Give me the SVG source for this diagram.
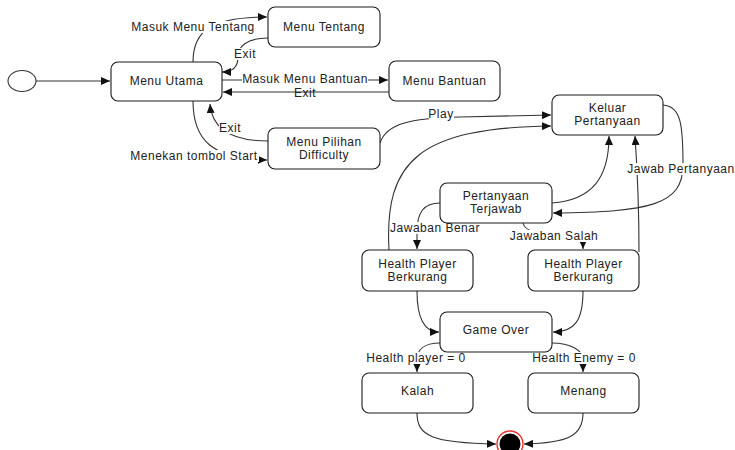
<svg xmlns="http://www.w3.org/2000/svg" width="735" height="450" viewBox="0 0 735 450">
  <style>
    .box { fill: #ffffff; stroke: #1a1a1a; stroke-width: 1.1; }
    .t { font-family: "Liberation Sans", Arial, sans-serif; font-size: 12px; letter-spacing: 0.5px; fill: #222; text-anchor: middle; }
    .bg { fill: #ffffff; stroke: none; }
    .edge { fill: none; stroke: #333; stroke-width: 1.1; marker-end: url(#arrow); }
  </style>
  <defs>
    <marker id="arrow" markerUnits="userSpaceOnUse" markerWidth="9" markerHeight="8" refX="9" refY="4" orient="auto">
      <path d="M0,0 L9,4 L0,8 z" fill="#111"/>
    </marker>
  </defs>
  <rect width="735" height="450" fill="#ffffff"/>

  <!-- connectors -->
  <g id="connectors">
    <path class="edge" d="M36,81 L110,81"/>
    <path class="edge" d="M193,62 C193,30 212,17 267,17"/>
    <path class="edge" d="M268,38 C246,38 238,47 238,57 C238,67 232,72 222,72"/>
    <path class="edge" d="M222,80 L388,80"/>
    <path class="edge" d="M389,92 L223,92"/>
    <path class="edge" d="M193,101 C193,140 212,159 267,160"/>
    <path class="edge" d="M268,141 C234,141 212,130 210,104"/>
    <path class="edge" d="M380,143 C386,124 410,118 460,117 L551,115"/>
    <path class="edge" d="M389,250 C384,160 420,128 551,126"/>
    <path class="edge" d="M552,203 C592,200 609,178 609,136"/>
    <path class="edge" d="M639,252 C639,200 637,165 635,136"/>
    <path class="edge" d="M663,105 C681,106 683,125 683,165 C683,205 650,212 553,213"/>
    <path class="edge" d="M440,203 C424,203 417,212 417,232 L417,249"/>
    <path class="edge" d="M523,223 C525,232 540,235 560,236 C576,237 583,240 583,249"/>
    <path class="edge" d="M417,291 C417,320 425,332 439,332"/>
    <path class="edge" d="M583,291 C583,320 575,332 553,332"/>
    <path class="edge" d="M440,343 C424,343 417,350 417,360 L417,372"/>
    <path class="edge" d="M552,343 C570,343 583,350 583,360 L583,372"/>
    <path class="edge" d="M417,413 C417,436 432,443 496,444"/>
    <path class="edge" d="M583,413 C583,436 568,443 524,444"/>

    <!-- label backgrounds: hide the line where a label sits on it -->
    <rect class="bg" x="130" y="21" width="126" height="12"/>
    <rect class="bg" x="234" y="48" width="22" height="12"/>
    <rect class="bg" x="242" y="73" width="126" height="12"/>
    <rect class="bg" x="219" y="122" width="22" height="12"/>
    <rect class="bg" x="130" y="150" width="129" height="12"/>
    <rect class="bg" x="429" y="108" width="25" height="12"/>
    <rect class="bg" x="628" y="163" width="106" height="12"/>
    <rect class="bg" x="390" y="222" width="91" height="12"/>
    <rect class="bg" x="510" y="230" width="88" height="12"/>
    <rect class="bg" x="367" y="352" width="99" height="12"/>
    <rect class="bg" x="532" y="352" width="104" height="12"/>

    <!-- connector labels -->
    <text class="t" x="193" y="31">Masuk Menu Tentang</text>
    <text class="t" x="245" y="58">Exit</text>
    <text class="t" x="305" y="82.5">Masuk Menu Bantuan</text>
    <text class="t" x="305" y="96.5">Exit</text>
    <text class="t" x="230" y="132">Exit</text>
    <text class="t" x="194" y="160">Menekan tombol Start</text>
    <text class="t" x="441" y="118">Play</text>
    <text class="t" x="681" y="173">Jawab Pertanyaan</text>
    <text class="t" x="435" y="232">Jawaban Benar</text>
    <text class="t" x="554" y="240">Jawaban Salah</text>
    <text class="t" x="416" y="362">Health player = 0</text>
    <text class="t" x="584" y="362">Health Enemy = 0</text>
  </g>

  <!-- start and end states -->
  <g id="start">
    <ellipse cx="22" cy="81" rx="14" ry="10.5" fill="#ffffff" stroke="#333" stroke-width="1.1"/>
  </g>
  <g id="end">
    <circle cx="510" cy="444" r="13" fill="#ffffff" stroke="#e33" stroke-width="1.4"/>
    <circle cx="510" cy="444" r="10.5" fill="#000000"/>
  </g>

  <!-- states -->
  <g id="menu-utama">
    <rect class="box" x="111" y="62" width="111" height="39" rx="7"/>
    <text class="t" x="166.5" y="85">Menu Utama</text>
  </g>
  <g id="menu-tentang">
    <rect class="box" x="268" y="7" width="112" height="40" rx="7"/>
    <text class="t" x="324" y="31">Menu Tentang</text>
  </g>
  <g id="menu-bantuan">
    <rect class="box" x="389" y="61" width="111" height="40" rx="7"/>
    <text class="t" x="444.5" y="85">Menu Bantuan</text>
  </g>
  <g id="menu-pilihan">
    <rect class="box" x="268" y="128" width="112" height="41" rx="7"/>
    <text class="t" x="324" y="145.5">Menu Pilihan</text>
    <text class="t" x="324" y="158.5">Difficulty</text>
  </g>
  <g id="keluar-pertanyaan">
    <rect class="box" x="552" y="95" width="111" height="40" rx="7"/>
    <text class="t" x="607.5" y="111.5">Keluar</text>
    <text class="t" x="607.5" y="124.5">Pertanyaan</text>
  </g>
  <g id="pertanyaan-terjawab">
    <rect class="box" x="440" y="183" width="112" height="40" rx="7"/>
    <text class="t" x="496" y="199.5">Pertanyaan</text>
    <text class="t" x="496" y="212.5">Terjawab</text>
  </g>
  <g id="health-left">
    <rect class="box" x="362" y="250" width="111" height="41" rx="7"/>
    <text class="t" x="417.5" y="267.5">Health Player</text>
    <text class="t" x="417.5" y="280.5">Berkurang</text>
  </g>
  <g id="health-right">
    <rect class="box" x="528" y="250" width="111" height="41" rx="7"/>
    <text class="t" x="583.5" y="267.5">Health Player</text>
    <text class="t" x="583.5" y="280.5">Berkurang</text>
  </g>
  <g id="game-over">
    <rect class="box" x="440" y="312" width="112" height="40" rx="7"/>
    <text class="t" x="496" y="334">Game Over</text>
  </g>
  <g id="kalah">
    <rect class="box" x="362" y="373" width="111" height="40" rx="7"/>
    <text class="t" x="417.5" y="395">Kalah</text>
  </g>
  <g id="menang">
    <rect class="box" x="528" y="373" width="111" height="40" rx="7"/>
    <text class="t" x="583.5" y="395">Menang</text>
  </g>
</svg>
